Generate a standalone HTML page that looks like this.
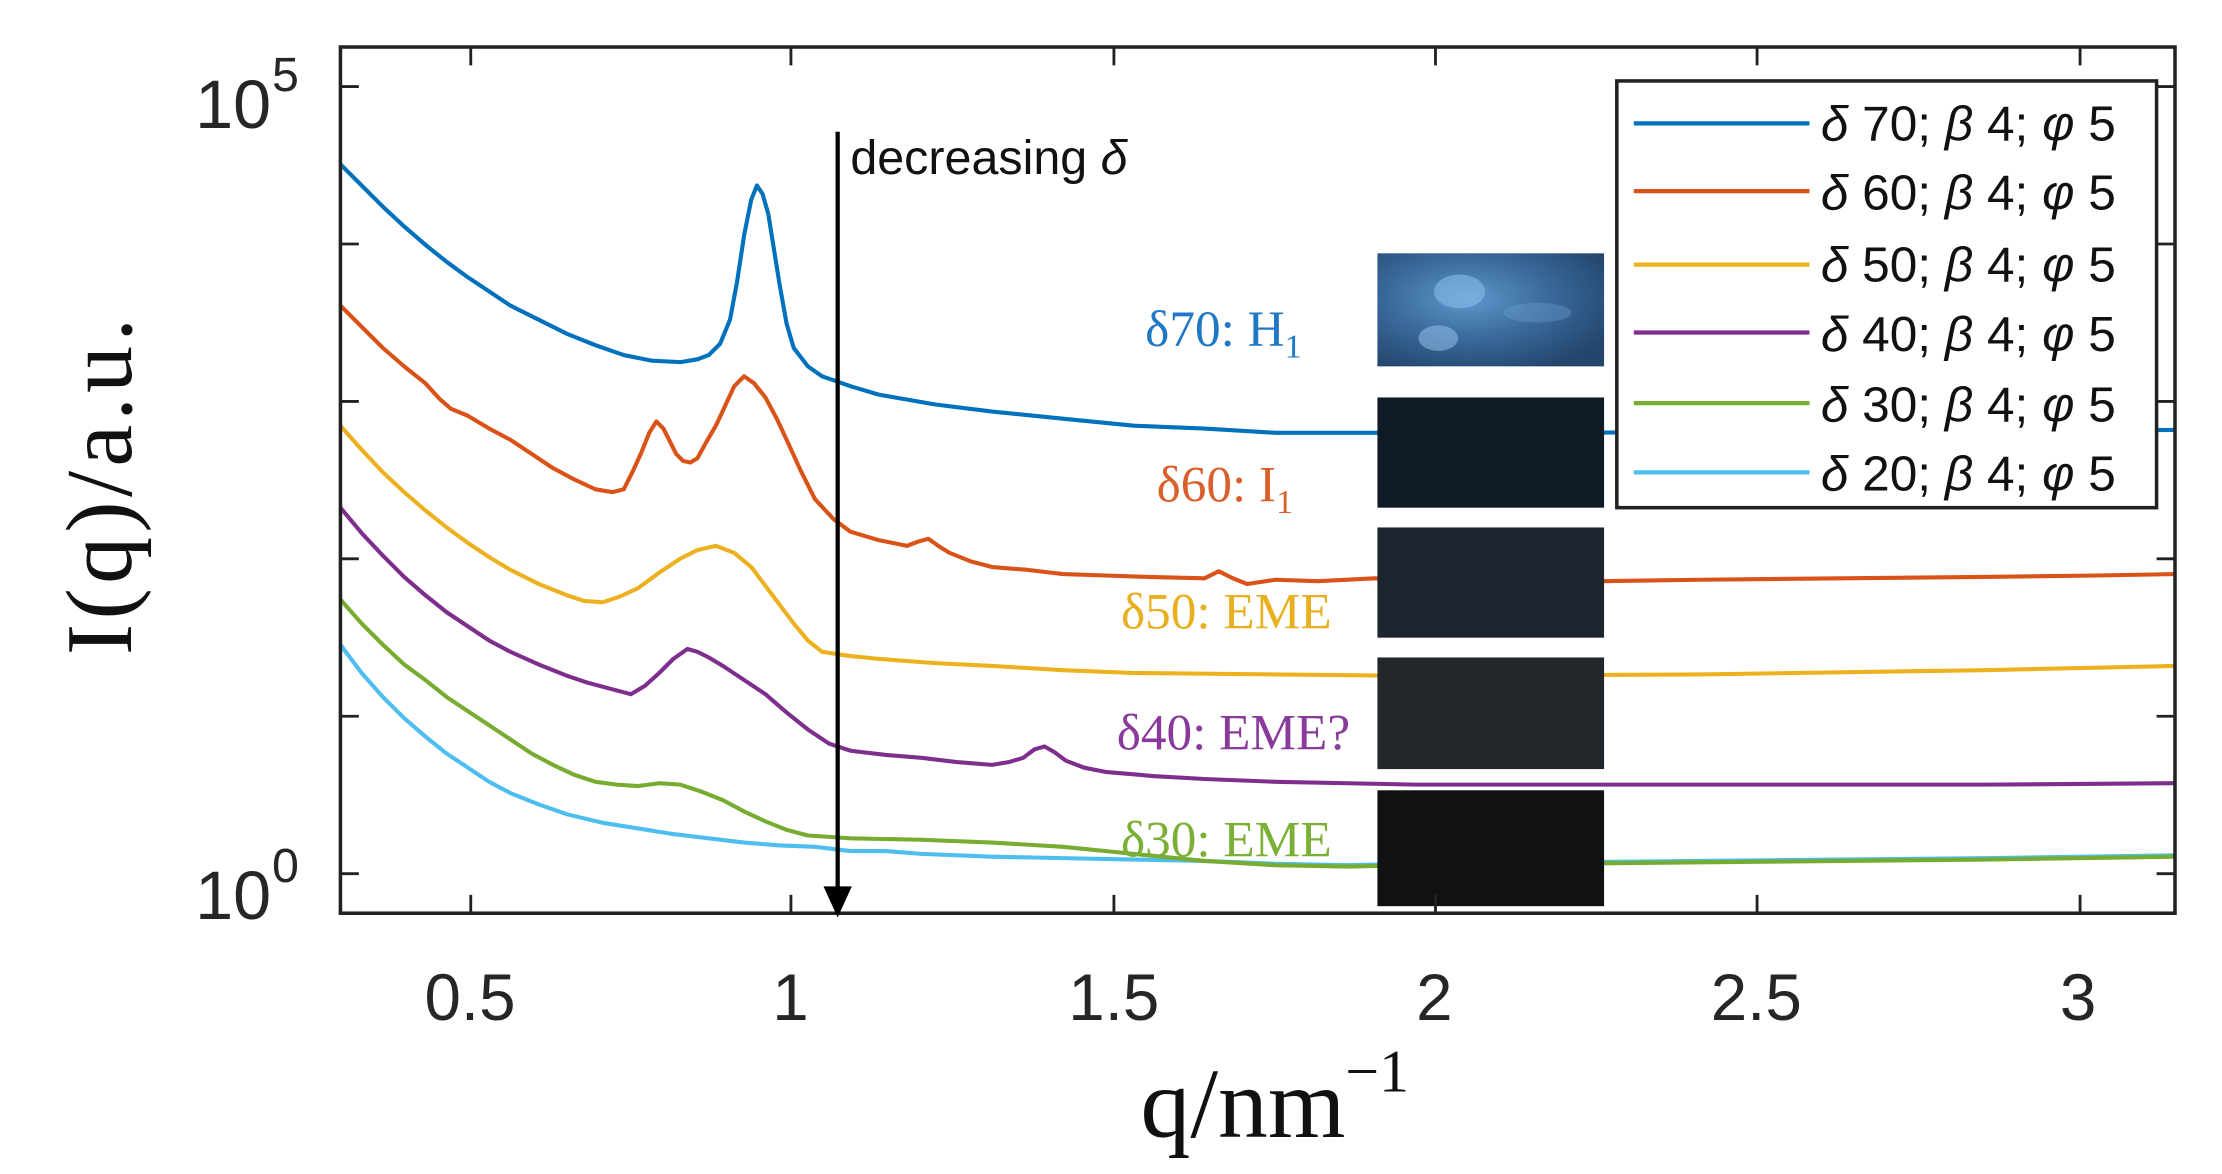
<!DOCTYPE html>
<html><head><meta charset="utf-8"><style>
html,body{margin:0;padding:0;background:#fff;}
svg{display:block;}
</style></head><body>
<svg width="2222" height="1174" viewBox="0 0 1560 824" preserveAspectRatio="none" xmlns="http://www.w3.org/2000/svg">
<defs>
<radialGradient id="g1" cx="0.4" cy="0.4" r="0.7"><stop offset="0" stop-color="#5f98cc"/><stop offset="0.5" stop-color="#3a6a9c"/><stop offset="1" stop-color="#23466c"/></radialGradient>
</defs>
<rect width="1560" height="824" fill="#fff"/>
<g transform="matrix(0.99459,0,0,0.9918,0.30,1.26)">
<g fill="none" stroke-width="2.9" stroke-linejoin="round">
<polyline stroke="#4dbeee" points="240,455 255,475 270,492 285,507 300,520 315,532 330,542 345,552 360,560 380,568 400,575 425,581 450,585 475,589 500,592 525,595 550,597 575,598 600,601 625,601 650,603 700,605 750,606 800,607 850,608 900,610 950,611 1000,610 1100,609 1200,608 1300,607 1400,606 1535,604"/>
<polyline stroke="#77ac30" points="240,423 255,440 270,455 285,469 300,480 315,492 330,502 345,512 360,522 375,532 390,540 405,547 420,552 435,554 450,555 465,553 480,554 495,559 510,565 525,573 540,580 555,586 570,590 600,592 650,593 700,595 750,598 800,603 850,608 900,611 950,612 1000,611 1100,610 1200,609 1300,608 1400,607 1535,605"/>
<polyline stroke="#7e2f8e" points="240,358 255,376 270,392 285,407 300,420 315,432 330,442 345,452 360,460 380,469 400,477 415,482 430,486 445,490 455,484 465,475 475,465 485,458 492,460 500,464 510,470 525,480 540,490 555,503 570,515 585,525 600,530 625,533 650,535 675,538 700,540 712,538 722,535 730,529 737,527 744,531 752,537 765,542 780,545 815,548 850,550 900,552 1000,554 1200,554 1400,554 1535,553"/>
<polyline stroke="#edb120" points="240,300 255,317 270,333 285,347 300,360 315,372 330,383 345,393 360,402 380,412 400,420 412,424 425,425 437,421 450,415 465,404 480,394 492,388 505,385 518,390 530,400 545,420 560,440 570,452 580,460 600,463 620,465 660,468 700,470 750,473 800,475 900,476 1000,477 1200,476 1400,473 1535,470"/>
<polyline stroke="#d95319" points="240,215 255,230 270,245 285,258 300,270 310,281 318,288 330,293 345,302 360,310 375,320 390,330 405,338 420,345 432,347 440,345 446,333 452,320 458,305 463,297 468,302 472,310 477,320 482,325 487,326 492,323 498,312 505,300 512,285 518,272 525,265 532,270 540,280 548,295 555,310 565,332 575,352 588,366 600,375 620,381 640,385 648,382 655,380 662,385 670,390 685,396 700,400 725,402 750,405 780,406 810,407 850,408 860,403 870,408 880,412 900,409 930,410 970,408 1130,410 1200,409 1300,408 1400,407 1480,406 1535,405"/>
<polyline stroke="#0072bd" points="240,115 255,130 270,145 285,159 300,172 315,184 330,195 345,205 360,215 380,225 400,235 420,243 440,250 460,254 480,255 492,253 500,250 508,242 515,225 520,198 525,165 530,140 534,130 538,136 542,150 546,175 550,200 555,228 560,245 570,258 580,265 600,272 620,278 660,285 700,290 750,295 800,300 850,302 900,305 970,305 1100,305 1300,304 1535,303"/>
</g>
<rect x="972" y="178" width="160" height="80" fill="url(#g1)"/>
<ellipse cx="1030" cy="205" rx="18" ry="12" fill="#8cc0ee" opacity="0.55"/>
<ellipse cx="1015" cy="238" rx="14" ry="9" fill="#9ccaf2" opacity="0.5"/>
<ellipse cx="1085" cy="220" rx="24" ry="7" fill="#6fa3d6" opacity="0.35"/>
<rect x="972" y="280" width="160" height="78" fill="#0e1a26"/>
<rect x="972" y="372" width="160" height="78" fill="#1d2531"/>
<rect x="972" y="464" width="160" height="79" fill="#22272c"/>
<rect x="972" y="558" width="160" height="82" fill="#0f1112"/>
<rect x="240" y="32" width="1295" height="613" fill="none" stroke="#222" stroke-width="2.5"/>
<g stroke="#222" stroke-width="2">
<line x1="332" y1="645" x2="332" y2="632"/><line x1="332" y1="32" x2="332" y2="45"/>
<line x1="558" y1="645" x2="558" y2="632"/><line x1="558" y1="32" x2="558" y2="45"/>
<line x1="786" y1="645" x2="786" y2="632"/><line x1="786" y1="32" x2="786" y2="45"/>
<line x1="1013" y1="645" x2="1013" y2="632"/><line x1="1013" y1="32" x2="1013" y2="45"/>
<line x1="1240" y1="645" x2="1240" y2="632"/><line x1="1240" y1="32" x2="1240" y2="45"/>
<line x1="1468" y1="645" x2="1468" y2="632"/><line x1="1468" y1="32" x2="1468" y2="45"/>
<line x1="240" y1="617" x2="253" y2="617"/><line x1="1535" y1="617" x2="1522" y2="617"/>
<line x1="240" y1="505.6" x2="253" y2="505.6"/><line x1="1535" y1="505.6" x2="1522" y2="505.6"/>
<line x1="240" y1="394.2" x2="253" y2="394.2"/><line x1="1535" y1="394.2" x2="1522" y2="394.2"/>
<line x1="240" y1="282.8" x2="253" y2="282.8"/><line x1="1535" y1="282.8" x2="1522" y2="282.8"/>
<line x1="240" y1="171.4" x2="253" y2="171.4"/><line x1="1535" y1="171.4" x2="1522" y2="171.4"/>
<line x1="240" y1="60" x2="253" y2="60"/><line x1="1535" y1="60" x2="1522" y2="60"/>
</g>
<line x1="591" y1="92" x2="591" y2="630" stroke="#000" stroke-width="3"/>
<polygon points="581,626 601,626 591,648" fill="#000"/>
<rect x="1141" y="56" width="381" height="302" fill="#fff" stroke="#222" stroke-width="2.5"/>
<g stroke-width="3">
<line x1="1153" y1="86" x2="1277" y2="86" stroke="#0072bd"/>
<line x1="1153" y1="134" x2="1277" y2="134" stroke="#d95319"/>
<line x1="1153" y1="186" x2="1277" y2="186" stroke="#edb120"/>
<line x1="1153" y1="234" x2="1277" y2="234" stroke="#7e2f8e"/>
<line x1="1153" y1="284" x2="1277" y2="284" stroke="#77ac30"/>
<line x1="1153" y1="333" x2="1277" y2="333" stroke="#4dbeee"/>
</g>
<g font-family="Liberation Sans, sans-serif" font-size="35" fill="#111">
<text x="1285" y="98"><tspan font-style="italic">δ</tspan> 70; <tspan font-style="italic">β</tspan> 4; <tspan font-style="italic">φ</tspan> 5</text>
<text x="1285" y="147"><tspan font-style="italic">δ</tspan> 60; <tspan font-style="italic">β</tspan> 4; <tspan font-style="italic">φ</tspan> 5</text>
<text x="1285" y="198"><tspan font-style="italic">δ</tspan> 50; <tspan font-style="italic">β</tspan> 4; <tspan font-style="italic">φ</tspan> 5</text>
<text x="1285" y="247"><tspan font-style="italic">δ</tspan> 40; <tspan font-style="italic">β</tspan> 4; <tspan font-style="italic">φ</tspan> 5</text>
<text x="1285" y="297"><tspan font-style="italic">δ</tspan> 30; <tspan font-style="italic">β</tspan> 4; <tspan font-style="italic">φ</tspan> 5</text>
<text x="1285" y="346"><tspan font-style="italic">δ</tspan> 20; <tspan font-style="italic">β</tspan> 4; <tspan font-style="italic">φ</tspan> 5</text>
</g>
</g>
<g font-family="Liberation Sans, sans-serif" font-size="46" fill="#262626" text-anchor="middle">
<text x="330" y="716">0.5</text><text x="555" y="716">1</text><text x="782" y="716">1.5</text>
<text x="1007" y="716">2</text><text x="1233" y="716">2.5</text><text x="1459" y="716">3</text>
</g>
<g font-family="Liberation Sans, sans-serif" font-size="48" fill="#262626">
<text x="137" y="90">10</text><text x="191" y="64" font-size="34">5</text>
<text x="137" y="645">10</text><text x="191" y="619" font-size="34">0</text>
</g>
<text x="895" y="798" font-family="Liberation Serif, serif" font-size="70" text-anchor="middle" fill="#111">q/nm<tspan font-size="42" dy="-32">−1</tspan></text>
<text transform="translate(92,340) rotate(-90)" font-family="Liberation Serif, serif" font-size="66" letter-spacing="3" text-anchor="middle" fill="#111">I(q)/a.u.</text>
<text x="597" y="122" font-family="Liberation Sans, sans-serif" font-size="34" fill="#111">decreasing <tspan font-style="italic">δ</tspan></text>
<g font-family="Liberation Serif, serif" font-size="36">
<text x="804" y="243" fill="#1f78c4">δ70: H<tspan font-size="24" dy="8">1</tspan></text>
<text x="812" y="352" fill="#d9602a">δ60: I<tspan font-size="24" dy="8">1</tspan></text>
<text x="787" y="441" fill="#e8b020">δ50: EME</text>
<text x="784" y="526" fill="#8a3a9a">δ40: EME?</text>
<text x="787" y="601" fill="#7ab035">δ30: EME</text>
</g>
</svg>
</body></html>
